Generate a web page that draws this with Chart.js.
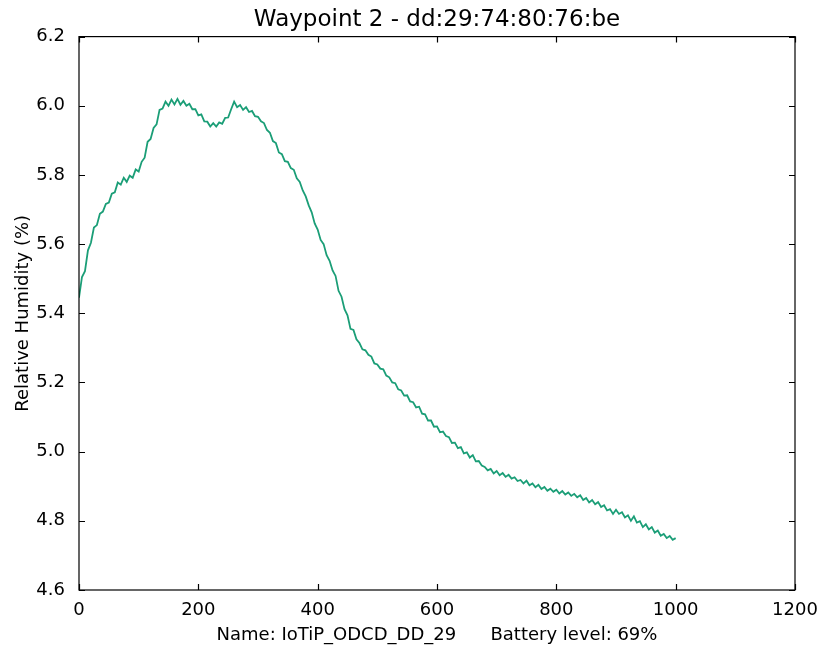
<!DOCTYPE html>
<html>
<head>
<meta charset="utf-8">
<script src="https://cdn.jsdelivr.net/npm/chart.js@4.4.1/dist/chart.umd.min.js"></script>
<style>
  html, body { margin: 0; padding: 0; background: #fff; }
  #wrap { width: 820px; height: 650px; }
</style>
</head>
<body>
<div id="wrap"><canvas id="chart" width="820" height="650"></canvas></div>
<script>
const chartTitle = 'Waypoint 2 - dd:29:74:80:76:be';
const xLabel = 'Name: IoTiP_ODCD_DD_29      Battery level: 69%';
const yLabel = 'Relative Humidity (%)';
const xTicks = [0, 200, 400, 600, 800, 1000, 1200];
const yTicks = [4.6, 4.8, 5.0, 5.2, 5.4, 5.6, 5.8, 6.0, 6.2];

// one reading every 5 samples (sample 0 .. 1000)
const sampleStep = 5;
const humidity = [
    5.445, 5.505, 5.522, 5.582, 5.604, 5.648, 5.655, 5.688, 5.694, 5.716,
    5.720, 5.746, 5.750, 5.778, 5.772, 5.792, 5.780, 5.798, 5.792, 5.816,
    5.810, 5.838, 5.850, 5.896, 5.904, 5.936, 5.946, 5.988, 5.992, 6.012,
    6.000, 6.018, 6.004, 6.020, 6.003, 6.014, 6.000, 6.006, 5.990, 5.990,
    5.972, 5.975, 5.955, 5.954, 5.940, 5.950, 5.940, 5.952, 5.948, 5.965,
    5.966, 5.990, 6.012, 5.996, 6.002, 5.988, 5.996, 5.982, 5.985, 5.970,
    5.968, 5.955, 5.950, 5.930, 5.922, 5.898, 5.892, 5.865, 5.860, 5.840,
    5.838, 5.820, 5.815, 5.790, 5.780, 5.755, 5.738, 5.712, 5.692, 5.660,
    5.642, 5.612, 5.600, 5.568, 5.552, 5.524, 5.508, 5.465, 5.448, 5.412,
    5.394, 5.355, 5.352, 5.325, 5.314, 5.296, 5.293, 5.280, 5.275, 5.255,
    5.252, 5.240, 5.238, 5.220, 5.215, 5.200, 5.198, 5.180, 5.177, 5.162,
    5.163, 5.145, 5.143, 5.128, 5.130, 5.110, 5.108, 5.090, 5.090, 5.072,
    5.073, 5.056, 5.058, 5.045, 5.042, 5.025, 5.026, 5.010, 5.013, 4.995,
    4.998, 4.983, 4.990, 4.972, 4.973, 4.960, 4.956, 4.946, 4.950, 4.937,
    4.944, 4.932, 4.938, 4.927, 4.933, 4.922, 4.926, 4.915, 4.918, 4.908,
    4.916, 4.903, 4.908, 4.897, 4.904, 4.892, 4.898, 4.887, 4.893, 4.884,
    4.890, 4.879, 4.886, 4.876, 4.882, 4.872, 4.878, 4.868, 4.874, 4.860,
    4.866, 4.853, 4.860, 4.848, 4.854, 4.840, 4.845, 4.830, 4.834, 4.820,
    4.832, 4.820, 4.825, 4.810, 4.816, 4.800, 4.813, 4.795, 4.799, 4.782,
    4.790, 4.775, 4.782, 4.766, 4.772, 4.757, 4.762, 4.750, 4.756, 4.745,
    4.750
];

const font = { family: '"DejaVu Sans", sans-serif', size: 18 };
const tickLen = 6;

// matplotlib-style frame with inward ticks on all four sides
const framePlugin = {
    id: 'frame',
    afterDraw(chart) {
        const ctx = chart.ctx;
        const a = chart.chartArea;
        const xs = chart.scales.x, ys = chart.scales.y;
        ctx.save();
        ctx.strokeStyle = '#000';
        ctx.lineWidth = 1.2;
        ctx.strokeRect(a.left, a.top, a.right - a.left, a.bottom - a.top);
        ctx.beginPath();
        xTicks.forEach(v => {
            const px = Math.round(xs.getPixelForValue(v)) + 0.5;
            ctx.moveTo(px, a.bottom); ctx.lineTo(px, a.bottom - tickLen);
            ctx.moveTo(px, a.top); ctx.lineTo(px, a.top + tickLen);
        });
        yTicks.forEach(v => {
            const py = Math.round(ys.getPixelForValue(v)) + 0.5;
            ctx.moveTo(a.left, py); ctx.lineTo(a.left + tickLen, py);
            ctx.moveTo(a.right, py); ctx.lineTo(a.right - tickLen, py);
        });
        ctx.stroke();
        ctx.restore();
    }
};

new Chart(document.getElementById('chart'), {
    type: 'line',
    data: {
        datasets: [{
            data: humidity.map((v, i) => ({ x: i * sampleStep, y: v })),
            borderColor: '#1b9e77',
            borderWidth: 1.8,
            pointRadius: 0,
            tension: 0,
            fill: false
        }]
    },
    options: {
        responsive: false,
        animation: false,
        devicePixelRatio: 1,
        layout: { padding: { left: 9, right: 25, top: 0, bottom: 0 } },
        plugins: {
            legend: { display: false },
            tooltip: { enabled: false },
            title: {
                display: true,
                fullSize: false,
                text: chartTitle,
                color: '#000',
                font: { family: font.family, size: 23, weight: 'normal' },
                padding: { top: 6, bottom: 3 }
            }
        },
        scales: {
            x: {
                type: 'linear',
                min: 0,
                max: 1200,
                afterBuildTicks: s => { s.ticks = xTicks.map(v => ({ value: v })); },
                afterFit: s => { s.height = 60; },
                grid: { display: false },
                border: { display: false },
                ticks: { color: '#000', font: font, padding: 2, maxRotation: 0, callback: v => String(v) },
                title: { display: true, text: xLabel, color: '#000', font: font, padding: { top: 2 } }
            },
            y: {
                min: 4.6,
                max: 6.2,
                afterBuildTicks: s => { s.ticks = yTicks.map(v => ({ value: v })); },
                afterFit: s => { s.width = 70; },
                grid: { display: false },
                border: { display: false },
                ticks: { color: '#000', font: font, padding: 6, callback: v => v.toFixed(1) },
                title: { display: true, text: yLabel, color: '#000', font: font, padding: { bottom: 4 } }
            }
        }
    },
    plugins: [framePlugin]
});
</script>
</body>
</html>
